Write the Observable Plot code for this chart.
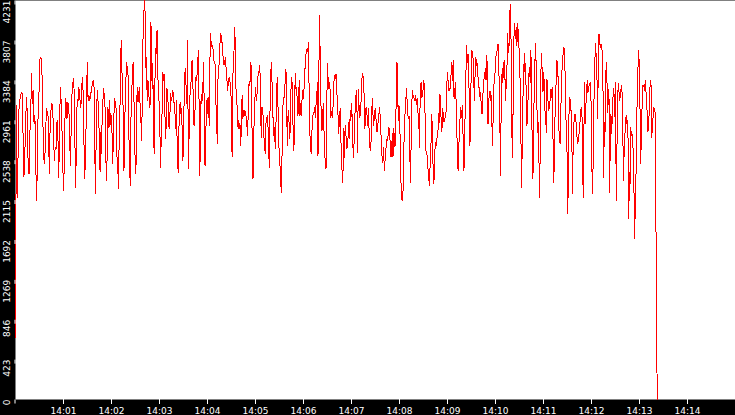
<!DOCTYPE html>
<html>
<head>
<meta charset="utf-8">
<script src="https://cdn.jsdelivr.net/npm/d3@7"></script>
<script src="https://cdn.jsdelivr.net/npm/@observablehq/plot@0.6"></script>
<style>
html, body { margin: 0; padding: 0; background: #000; }
svg { display: block; }
</style>
</head>
<body>
<div id="chart"></div>
<script>
// Readings of the series, in segments of about 100 seconds each
const seg0 = [660, 3117, 2145, 2570, 3064, 3170, 3223, 3259, 3241, 2782, 2357, 2587, 2941, 3206, 3029, 2464, 2393, 2817, 3029, 3453, 3135, 3276, 2923, 3011, 2499, 2110, 2534, 3188, 3276, 3612, 3630, 3595, 3206, 2676, 2499, 2623, 2923, 3082, 3029, 2976, 2393, 2888, 3064, 3135, 3120, 2817, 2534, 2676, 2658, 2941, 2958, 2357, 2658, 3312, 3170, 2888, 2481, 2216, 2605, 3188, 2976, 3153, 2994, 3135, 2870, 2481, 2888, 3259, 3365, 3400, 3064, 2251, 2587, 3188, 3153, 3312, 3223, 3100, 3153, 3418, 3276, 2764, 2340, 2605, 3100, 3577, 3170, 3223, 3170, 3223, 3294, 3347, 3383, 3312, 2570, 2181];
const seg1 = [2552, 3029, 3276, 3170, 3064, 2676, 2411, 2835, 2605, 3011, 3170, 3294, 3223, 3100, 2658, 2322, 2570, 3100, 2888, 3170, 2888, 3029, 3010, 2817, 2499, 2835, 3082, 3188, 3100, 3082, 2570, 2560, 2234, 2676, 2976, 3400, 3807, 3524, 3223, 3064, 2428, 2835, 3294, 3436, 3577, 3453, 3440, 2817, 2464, 2269, 2994, 3241, 3453, 3577, 3347, 2658, 2570, 2393, 3135, 3312, 3153, 3241, 3312, 3100, 2994, 2746, 3135, 3807, 4019, 4231, 4107, 3524, 3630, 3170, 3383, 3370, 3100, 3090, 4001, 3913, 3294, 3559, 2817, 2605, 3365, 3718, 3665, 3913, 3436, 3312, 3135, 2888, 2464, 2782, 2976, 3471, 3383, 3453, 3135, 2764, 2888, 3294, 3259, 3100, 2888, 2870, 3241, 3188, 3170, 3276, 3259, 3153, 3135, 2958, 2870, 3170];
const seg2 = [2870, 2517, 2411, 2852, 3100, 3153, 3029, 3082, 2817, 2534, 2817, 3294, 3471, 3506, 3206, 3135, 3807, 2446, 2746, 3100, 3347, 3365, 3577, 3595, 3276, 2923, 2905, 3082, 3418, 3383, 3453, 3595, 3701, 3100, 2375, 2782, 3241, 3135, 3223, 3400, 3577, 2499, 2481, 2799, 3170, 3029, 3188, 3206, 2905, 3559, 3878, 3771, 3736, 3754, 3701, 3595, 3580, 3542, 3153, 2958, 2711, 3383, 3506, 3577, 3771, 3878, 3860, 3789, 3648, 3635, 3542, 3577, 3630, 3524, 3471, 3276, 3330, 3400, 3418, 3365, 3312, 3064, 2570, 3383, 3612, 3718, 3948, 3630, 3206, 3188, 2976, 2870, 2958, 2870, 2905, 2693, 3100, 3223, 2976, 3064, 3011, 3064, 3011, 3000, 2905, 2799, 3064, 3347, 3330, 3400, 3577, 3153, 2676, 2340, 2676, 3100, 3206, 3312, 3170, 3241, 3330];
const seg3 = [3418, 3471, 3489, 3542, 3170, 2782, 3100, 3082, 2994, 2782, 2711, 2605, 2923, 2976, 3011, 2923, 2746, 2464, 2994, 3365, 3577, 3418, 3100, 2941, 2799, 2888, 2658, 2888, 3241, 3418, 3153, 2817, 2587, 2499, 2340, 2198, 2517, 2976, 3206, 3190, 3276, 3383, 3506, 3241, 2693, 2994, 3064, 2870, 2764, 3241, 3330, 3418, 2941, 2888, 2640, 3153, 3453, 3294, 3312, 3153, 3011, 3206, 3383, 3011, 3135, 3011, 3170, 3276, 3188, 3276, 3418, 3577, 3665, 3701, 3718, 3683, 3789, 3029, 2799, 2658, 2605, 2852, 3011, 3029, 3047, 3100, 2994, 3117, 3170, 3365, 2587, 3029, 4072, 3771, 3135, 3100, 2852, 3029, 3135, 2852, 2676, 2464, 2446, 2994, 3559, 3418, 3294, 3365, 3294, 2994, 3011, 3064, 2994, 3206, 3383, 3436, 3400, 3453, 3276, 3170, 3011, 2817];
const seg4 = [2994, 3082, 2782, 2499, 2411, 2304, 2870, 2570, 2835, 2905, 2746, 2658, 2711, 2799, 2941, 2764, 3064, 2958, 3135, 2976, 2693, 2570, 2782, 3011, 3135, 3276, 3135, 2623, 3284, 3153, 2994, 3011, 3117, 3330, 3453, 3436, 3383, 3170, 2870, 3064, 3100, 3029, 2905, 3082, 2905, 2711, 2640, 2693, 2994, 3188, 3029, 2905, 3064, 2958, 3082, 2905, 2835, 2852, 2976, 3029, 3100, 2976, 2817, 2676, 2517, 2570, 2676, 2428, 2517, 2605, 2711, 2764, 2746, 2835, 2888, 2817, 2693, 2570, 2658, 2817, 2570, 2870, 2782, 2676, 2817, 3294, 3577, 3276, 2958, 3117, 3029, 2640, 2304, 2128, 2110, 2198, 2552, 2888, 3029, 3117, 3294, 3188, 3029, 2976, 3011, 2746, 2304, 2640, 3100, 3276, 3223, 3206, 3195, 3170, 3223, 3153, 3117, 3188, 2870, 3011, 2676];
const seg5 = [3029, 3347, 3365, 3206, 3241, 3294, 3383, 3276, 2941, 2640, 2605, 2587, 2446, 2428, 2269, 2428, 2552, 2799, 3029, 2587, 2464, 2287, 2499, 2729, 2676, 2746, 2782, 2817, 3029, 2941, 3241, 3135, 2923, 2835, 3082, 3029, 2941, 2976, 2994, 3011, 3223, 3471, 3400, 3276, 3294, 3276, 3383, 3471, 3577, 3383, 3595, 3206, 3195, 3365, 3223, 2888, 2693, 2446, 2428, 2941, 2958, 3100, 2994, 3064, 3117, 2623, 2428, 2764, 3135, 3471, 3754, 3577, 3665, 3577, 3100, 2693, 3206, 3471, 3701, 3665, 3595, 3312, 3170, 3630, 3612, 3542, 3559, 3418, 3347, 3276, 3206, 3259, 3082, 3029, 3135, 3347, 3400, 3436, 3506, 3383, 3648, 3524, 2923, 3153, 3241, 3276, 3170, 3223, 2888, 2693, 3170, 3347, 3383, 3542, 3648, 3665, 3718, 3771, 3559, 3294, 2817, 2375];
const seg6 = [2817, 3330, 3506, 3365, 3542, 3595, 3453, 3170, 3347, 3471, 3878, 3736, 3683, 3984, 4189, 3966, 3223, 2570, 2888, 3595, 3984, 3931, 3825, 3948, 3754, 3984, 3895, 3789, 3418, 3405, 2799, 2251, 2711, 3188, 3365, 3665, 3471, 3559, 3206, 2905, 3011, 3276, 3453, 3524, 3365, 3701, 3153, 2676, 2340, 2782, 3365, 3595, 3771, 3489, 3100, 2835, 2941, 2552, 2145, 2729, 3489, 3665, 3418, 3259, 3471, 3347, 3064, 3029, 2835, 3400, 3294, 3064, 3082, 3117, 3206, 3294, 3206, 3312, 2799, 2304, 2499, 2976, 3241, 3418, 3595, 3453, 3400, 2852, 2729, 2711, 3135, 3365, 3595, 3648, 3736, 3718, 3489, 3135, 2817, 2623, 1969, 2287, 3029, 3206, 3170, 3064, 3047, 2181, 2587, 2923, 2958, 3029, 2994, 2888, 2782, 2711, 2746, 2817, 2888, 3011, 3082, 3064];
const seg7 = [3100, 2640, 2145, 2764, 3365, 2923, 3135, 3170, 3383, 3259, 3276, 3330, 3347, 3365, 3135, 2552, 2181, 2481, 2976, 3489, 3648, 3771, 3524, 3383, 2976, 3718, 3878, 3789, 3736, 3771, 3760, 3648, 3276, 2357, 2941, 2799, 3400, 3577, 3383, 3047, 3188, 3294, 2198, 2746, 3029, 2817, 2976, 3188, 3294, 3206, 2994, 3365, 2110, 2605, 3117, 3347, 3294, 3170, 3206, 3276, 3330, 3241, 2835, 2322, 2623, 2782, 2923, 3011, 2923, 2958, 2746, 1916, 2411, 2287, 2888, 2799, 2817, 2711, 2605, 2181, 1703, 2163, 2393, 2994, 3206, 3524, 3701, 3524, 3100, 2499, 2764, 3064, 3330, 3318, 3335, 3276, 3383, 3276, 3170, 3011, 2835, 2923, 3047, 3294, 3383, 3312, 2782, 2976, 2994, 3100, 3064, 3047];
// seconds after 14:00:00 of the first and last reading of each segment
const segStartSec = [0, 100.46, 201.71, 302.96, 405.04, 505.46, 606.71, 707.96];
const segEndSec = [100.25, 201.5, 302.75, 404.0, 505.25, 606.5, 707.75, 799.6];
// final drop
const tailSec = [800.5, 801.3, 802.5];
const tailValues = [2039, 545, 0];

const yTicks = [0, 423, 846, 1269, 1692, 2115, 2538, 2961, 3384, 3807, 4231];
const xTickLabels = ["14:01", "14:02", "14:03", "14:04", "14:05", "14:06", "14:07", "14:08", "14:09", "14:10", "14:11", "14:12", "14:13", "14:14"];

const day = Date.UTC(2024, 0, 1);
const at = (sec) => new Date(day + 14 * 3600e3 + sec * 1000);
const segments = [seg0, seg1, seg2, seg3, seg4, seg5, seg6, seg7];
const data = [];
segments.forEach((vals, k) => {
  const a = segStartSec[k], b = segEndSec[k];
  vals.forEach((v, j) => data.push({t: at(a + (b - a) * j / (vals.length - 1)), v}));
});
tailValues.forEach((v, j) => data.push({t: at(tailSec[j]), v}));

const xTicks = xTickLabels.map((s) => {
  const [h, m] = s.split(":").map(Number);
  return new Date(day + (h * 60 + m) * 60e3);
});

const chart = Plot.plot({
  width: 735,
  height: 415,
  marginLeft: 15,
  marginRight: 0,
  marginTop: 0,
  marginBottom: 16,
  style: {background: "#000", color: "#fff", fontFamily: "DejaVu Sans", fontSize: "9px"},
  x: {type: "utc", domain: [at(0), at(900)], label: null},
  y: {domain: [0, 4231], label: null},
  marks: [
    Plot.frame({fill: "#fff", stroke: "none"}),
    Plot.line(data, {x: "t", y: "v", stroke: "#ff0000", strokeWidth: 1, shapeRendering: "crispEdges"}),
    Plot.axisX({ticks: xTicks, tickFormat: d3.utcFormat("%H:%M"), tickSize: 5, tickPadding: 3, fontSize: 9, label: null}),
    Plot.axisY({ticks: yTicks, tickFormat: (d) => String(d), tickSize: 4, tickPadding: 4, rotate: -90, textAnchor: "end", lineAnchor: "middle", fontSize: 9, label: null})
  ]
});
document.getElementById("chart").appendChild(chart);
</script>
</body>
</html>
